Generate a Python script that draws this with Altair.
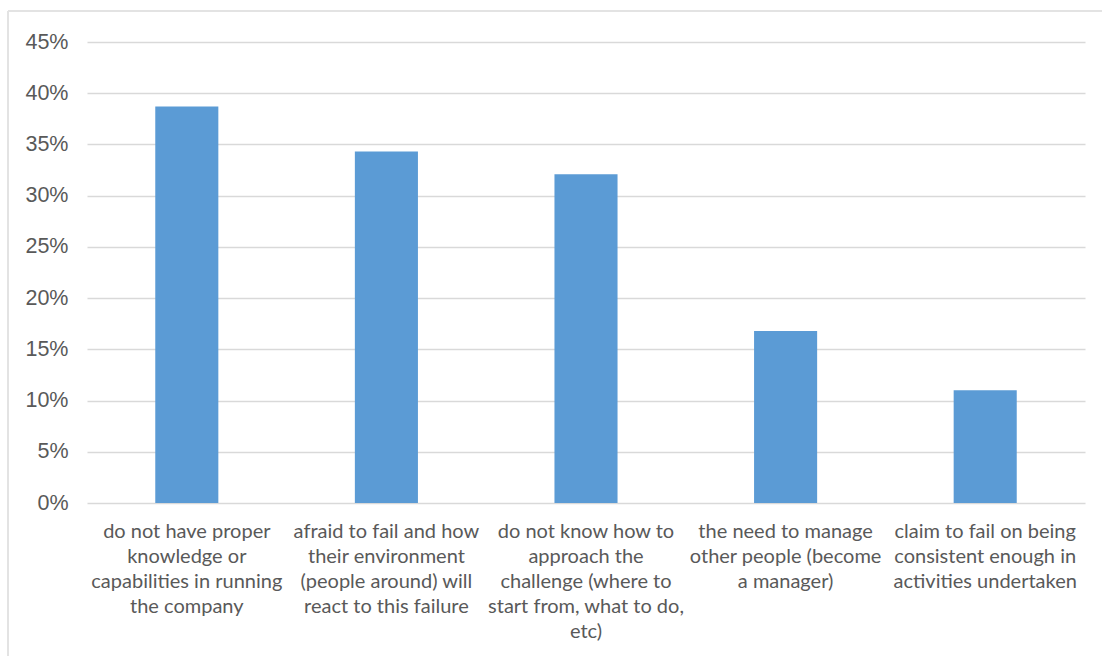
import altair as alt
import pandas as pd

# Survey answers (share of respondents) and their wrapped axis labels
reasons = [
    "do not have proper|knowledge or|capabilities in running|the company",
    "afraid to fail and how|their environment|(people around) will|react to this failure",
    "do not know how to|approach the|challenge (where to|start from, what to do,|etc)",
    "the need to manage|other people (become|a manager)",
    "claim to fail on being|consistent enough in|activities undertaken",
]
shares = [0.387, 0.343, 0.321, 0.168, 0.110]
y_ticks = [0.0, 0.05, 0.10, 0.15, 0.20, 0.25, 0.30, 0.35, 0.40, 0.45]

df = pd.DataFrame({"reason": reasons, "share": shares})

GRID = "#D9D9D9"
TEXT = "#595959"

bars = alt.Chart(df).mark_bar(color="#5B9BD5").encode(
    x=alt.X(
        "reason:N",
        sort=reasons,
        title=None,
        scale=alt.Scale(paddingInner=0.684, paddingOuter=0.342),
        axis=alt.Axis(
            labelAngle=0,
            labelExpr="split(datum.label, '|')",
            labelFont="Lato",
            labelFontSize=20,
            labelColor=TEXT,
            labelLineHeight=25,
            labelPadding=18,
            labelLimit=400,
            labelAlign="center",
            labelBaseline="top",
            ticks=False,
            domain=False,
            grid=False,
        ),
    ),
    y=alt.Y(
        "share:Q",
        title=None,
        scale=alt.Scale(domain=[0, 0.45], nice=False),
        axis=alt.Axis(
            values=y_ticks,
            format=".0%",
            labelFont="Liberation Sans",
            labelFontSize=21.5,
            labelColor=TEXT,
            labelPadding=19,
            labelBaseline="middle",
            ticks=False,
            domain=False,
            grid=True,
            gridColor=GRID,
            gridWidth=1.5,
        ),
    ),
)

# Outer frame: only its top and left edges fall inside the page
frame_src = pd.DataFrame({"k": [0]})
frame_top = alt.Chart(frame_src).mark_rule(color="#E3E3E3", strokeWidth=2).encode(
    x=alt.value(-79), x2=alt.value(1030), y=alt.value(-31)
)
frame_left = alt.Chart(frame_src).mark_rule(color="#E3E3E3", strokeWidth=2).encode(
    x=alt.value(-79), y=alt.value(-31), y2=alt.value(640)
)

chart = (
    alt.layer(frame_top, frame_left, bars)
    .properties(
        width=998,
        height=461,
        autosize=alt.AutoSizeParams(type="none"),
        padding={"left": 87, "top": 42, "right": 17, "bottom": 153},
        background="white",
    )
    .configure_view(stroke=None)
)

chart.save("out.html", embed_options={"renderer": "svg", "actions": False})
